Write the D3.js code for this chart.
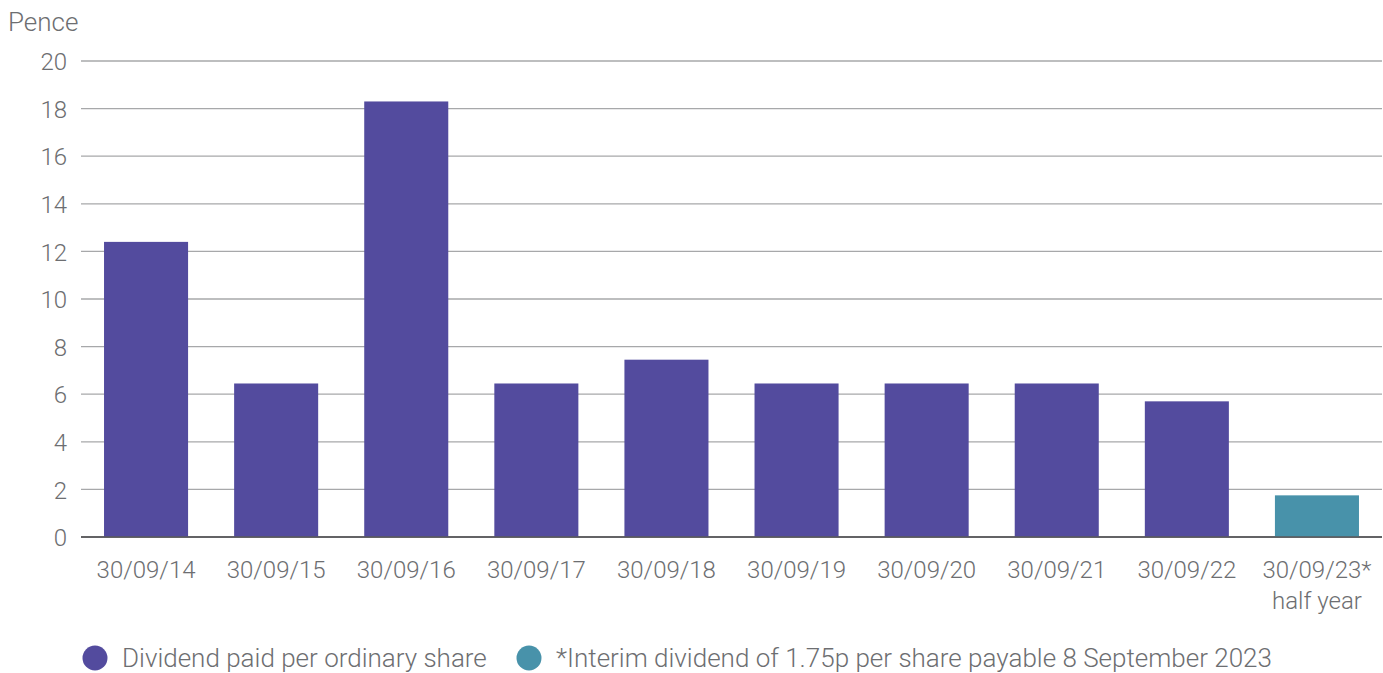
<!DOCTYPE html>
<html><head><meta charset="utf-8">
<script src="https://cdn.jsdelivr.net/npm/d3@7"></script>
<style>body{margin:0;background:#fff;} text{font-family:Roboto, sans-serif;font-weight:300;}</style>
</head><body>
<svg id="c" width="1383" height="673"></svg>
<script>
const categories = ["30/09/14","30/09/15","30/09/16","30/09/17","30/09/18","30/09/19","30/09/20","30/09/21","30/09/22","30/09/23*"];
const subLabels = ["","","","","","","","","","half year"];
const values = [12.4, 6.45, 18.3, 6.45, 7.45, 6.45, 6.45, 6.45, 5.7, 1.75];
const seriesType = ["paid","paid","paid","paid","paid","paid","paid","paid","paid","interim"];
const yTicks = [0,2,4,6,8,10,12,14,16,18,20];
const legendItems = [{key:"paid",label:"Dividend paid per ordinary share"},{key:"interim",label:"*Interim dividend of 1.75p per share payable 8 September 2023"}];
const colors = {paid:"#534B9E", interim:"#4892AA"};
const textColor = "#6D6E71";

(function(){
const svg = d3.select("#c");
const L = 81, R = 1382, T = 61, B = 537;
const x = d3.scaleBand().domain(categories).range([L, R]).paddingInner(0.354).paddingOuter(0.177);
const y = d3.scaleLinear().domain([0,20]).range([B, T]);

svg.append("g").selectAll("line").data(yTicks).join("line")
  .attr("x1", L).attr("x2", R).attr("y1", d=>y(d)).attr("y2", d=>y(d))
  .attr("stroke", d=> d===0 ? "#58595B" : "#A7A8AA").attr("stroke-width", 1.3);

const yAxis = d3.axisLeft(y).tickValues(yTicks).tickSize(0).tickPadding(0);
const gy = svg.append("g").attr("transform", `translate(${L-14},0)`).call(yAxis);
gy.select(".domain").remove();
gy.selectAll("text").attr("fill", textColor).style("font-size","24px").attr("dy","0.36em").style("font-family","Roboto").style("font-weight","300");

svg.append("text").attr("x", 8).attr("y", 31).text("Pence").attr("fill", textColor).style("font-size","26px");

svg.append("g").selectAll("rect").data(categories).join("rect")
  .attr("x", d=>x(d)).attr("width", x.bandwidth())
  .attr("y", (d,i)=>y(values[i])).attr("height", (d,i)=>y(0)-y(values[i]))
  .attr("fill", (d,i)=>colors[seriesType[i]]);
svg.append("line").attr("x1", L).attr("x2", R).attr("y1", y(0)).attr("y2", y(0)).attr("stroke","#58595B").attr("stroke-width",1.3);

const xAxis = d3.axisBottom(x).tickSize(0).tickPadding(0);
const gx = svg.append("g").attr("transform", `translate(0,${B})`).call(xAxis);
gx.select(".domain").remove();
gx.selectAll("text").attr("fill", textColor).style("font-size","24px").attr("dy", null).attr("y", 41).style("font-family","Roboto").style("font-weight","300");
svg.append("g").selectAll("text").data(categories).join("text")
  .attr("x", d=>x(d)+x.bandwidth()/2).attr("y", 609).attr("text-anchor","middle")
  .attr("fill", textColor).style("font-size","24px").text((d,i)=>subLabels[i]);

const legendX = [95, 529];
const lg = svg.append("g").selectAll("g").data(legendItems).join("g")
  .attr("transform", (d,i)=>`translate(${legendX[i]},658)`);
lg.append("circle").attr("r", 12.5).attr("fill", d=>colors[d.key]);
lg.append("text").attr("x", 27).attr("y", 9).attr("fill", textColor).style("font-size","26px").text(d=>d.label);
})();
</script>
</body></html>
